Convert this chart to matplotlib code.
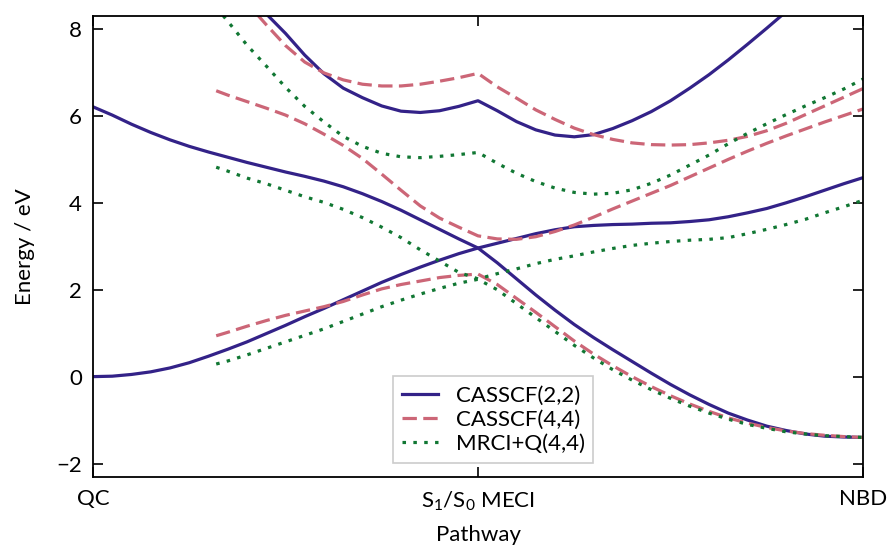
import matplotlib
matplotlib.use("Agg")
import matplotlib.pyplot as plt
from matplotlib.lines import Line2D

plt.rcParams['font.family'] = ['Lato', 'DejaVu Sans']
plt.rcParams['mathtext.default'] = 'regular'
plt.rcParams['font.size'] = 16

# Reaction coordinate: 0 = QC, 1 = S1/S0 MECI, 2 = NBD
x_full = [0.00, 0.05, 0.10, 0.15, 0.20, 0.25, 0.30, 0.35, 0.40, 0.45, 0.50,
          0.55, 0.60, 0.65, 0.70, 0.75, 0.80, 0.85, 0.90, 0.95, 1.00,
          1.05, 1.10, 1.15, 1.20, 1.25, 1.30, 1.35, 1.40, 1.45, 1.50,
          1.55, 1.60, 1.65, 1.70, 1.75, 1.80, 1.85, 1.90, 1.95, 2.00]

# CASSCF(2,2)
cas22_s0 = [0.00, 0.01, 0.05, 0.11, 0.20, 0.32, 0.47, 0.63, 0.80, 0.99, 1.18,
            1.38, 1.57, 1.77, 1.97, 2.17, 2.35, 2.52, 2.68, 2.83, 2.96,
            3.07, 3.18, 3.29, 3.38, 3.45, 3.48, 3.50, 3.51, 3.53, 3.54,
            3.57, 3.61, 3.68, 3.77, 3.87, 4.00, 4.14, 4.29, 4.44, 4.58]
cas22_s1 = [6.21, 6.02, 5.81, 5.62, 5.45, 5.30, 5.17, 5.05, 4.93, 4.82, 4.71,
            4.61, 4.50, 4.37, 4.21, 4.03, 3.83, 3.61, 3.39, 3.17, 2.96,
            2.62, 2.25, 1.88, 1.53, 1.20, 0.90, 0.62, 0.35, 0.08, -0.18,
            -0.42, -0.64, -0.84, -1.00, -1.14, -1.24, -1.32, -1.37, -1.39, -1.40]

x_cas22_s2 = [0.40, 0.45, 0.50, 0.55, 0.60, 0.65, 0.70, 0.75, 0.80, 0.85,
              0.90, 0.95, 1.00, 1.05, 1.10, 1.15, 1.20, 1.25, 1.30, 1.35,
              1.40, 1.45, 1.50, 1.55, 1.60, 1.65, 1.70, 1.75, 1.80, 1.85]
cas22_s2 = [8.90, 8.35, 7.90, 7.40, 6.97, 6.64, 6.42, 6.23, 6.11, 6.08,
            6.12, 6.22, 6.35, 6.12, 5.87, 5.68, 5.56, 5.52, 5.57, 5.71,
            5.89, 6.10, 6.35, 6.64, 6.95, 7.29, 7.65, 8.02, 8.40, 8.80]

# CASSCF(4,4) and MRCI+Q(4,4) share one grid
x_44 = [0.32, 0.35, 0.40, 0.45, 0.50, 0.55, 0.60, 0.65, 0.70, 0.75, 0.80,
        0.85, 0.90, 0.95, 1.00, 1.05, 1.10, 1.15, 1.20, 1.25, 1.30,
        1.35, 1.40, 1.45, 1.50, 1.55, 1.60, 1.65, 1.70, 1.75, 1.80,
        1.85, 1.90, 1.95, 2.00]
cas44_s0 = [0.94, 1.02, 1.16, 1.29, 1.41, 1.51, 1.61, 1.73, 1.88, 2.02, 2.12,
            2.20, 2.28, 2.33, 2.36, 2.12, 1.80, 1.48, 1.15, 0.82, 0.52,
            0.25, 0.00, -0.23, -0.44, -0.63, -0.80, -0.95, -1.07, -1.17, -1.25,
            -1.31, -1.35, -1.38, -1.40]
cas44_s1 = [6.58, 6.48, 6.33, 6.18, 6.02, 5.82, 5.58, 5.32, 5.02, 4.66, 4.29,
            3.93, 3.65, 3.44, 3.24, 3.17, 3.16, 3.22, 3.34, 3.49, 3.67,
            3.86, 4.04, 4.22, 4.40, 4.60, 4.80, 5.00, 5.19, 5.37, 5.54,
            5.70, 5.86, 6.01, 6.16]
cas44_s2 = [9.40, 9.10, 8.60, 8.10, 7.62, 7.24, 6.99, 6.83, 6.73, 6.69, 6.69,
            6.73, 6.80, 6.88, 6.98, 6.67, 6.41, 6.14, 5.92, 5.72, 5.57,
            5.46, 5.38, 5.34, 5.33, 5.34, 5.38, 5.44, 5.53, 5.66, 5.83,
            6.03, 6.23, 6.43, 6.63]

mrci_s0 = [0.29, 0.36, 0.50, 0.65, 0.80, 0.95, 1.10, 1.27, 1.44, 1.61, 1.76,
           1.90, 2.03, 2.15, 2.24, 2.00, 1.68, 1.36, 1.04, 0.72, 0.43,
           0.16, -0.08, -0.30, -0.50, -0.68, -0.84, -0.98, -1.10, -1.19, -1.27,
           -1.32, -1.36, -1.38, -1.40]
mrci_s1 = [4.82, 4.73, 4.57, 4.44, 4.29, 4.14, 4.01, 3.85, 3.66, 3.44, 3.20,
           2.92, 2.66, 2.40, 2.25, 2.37, 2.48, 2.60, 2.70, 2.78, 2.87,
           2.95, 3.02, 3.07, 3.11, 3.14, 3.16, 3.20, 3.29, 3.39, 3.50,
           3.62, 3.77, 3.91, 4.06]
mrci_s2 = [8.50, 8.18, 7.63, 7.15, 6.66, 6.22, 5.86, 5.53, 5.30, 5.14, 5.06,
           5.04, 5.07, 5.11, 5.16, 4.91, 4.68, 4.49, 4.34, 4.24, 4.20,
           4.22, 4.30, 4.45, 4.64, 4.87, 5.10, 5.36, 5.60, 5.82, 6.03,
           6.23, 6.42, 6.62, 6.85]

tick_pos = [0, 1, 2]
tick_labels = ['QC', 'S$_1$/S$_0$ MECI', 'NBD']
legend_labels = ['CASSCF(2,2)', 'CASSCF(4,4)', 'MRCI+Q(4,4)']

c_22 = '#332288'
c_44 = '#CC6677'
c_mr = '#117733'
lw = 2.3
dash_44 = (4.5, 2.0)
dash_mr = (1.1, 2.3)

fig = plt.figure(figsize=(8.89, 5.45), dpi=100)
ax = fig.add_axes([0.1046, 0.1248, 0.8662, 0.8458])

for y in (cas22_s0, cas22_s1):
    ax.plot(x_full, y, color=c_22, lw=lw)
ax.plot(x_cas22_s2, cas22_s2, color=c_22, lw=lw)

for y in (cas44_s0, cas44_s1, cas44_s2):
    ax.plot(x_44, y, color=c_44, lw=lw, dashes=dash_44)

for y in (mrci_s0, mrci_s1, mrci_s2):
    ax.plot(x_44, y, color=c_mr, lw=lw, dashes=dash_mr)

ax.set_xlim(0, 2)
ax.set_ylim(-2.31, 8.30)
ax.set_xticks(tick_pos)
ax.set_xticklabels(tick_labels)
ax.set_yticks([-2, 0, 2, 4, 6, 8])
ax.tick_params(direction='in', length=7, width=1.2, top=True, right=True,
               labelsize=16)
ax.tick_params(axis='x', pad=9)
ax.tick_params(axis='y', pad=8)
for s in ax.spines.values():
    s.set_linewidth(1.3)

ax.set_xlabel('Pathway', fontsize=16, labelpad=9)
ax.set_ylabel('Energy / eV', fontsize=16, labelpad=15)

handles = [
    Line2D([], [], color=c_22, lw=lw),
    Line2D([], [], color=c_44, lw=lw, dashes=dash_44),
    Line2D([], [], color=c_mr, lw=lw, dashes=dash_mr),
]
leg = ax.legend(handles, legend_labels,
                loc='lower left', bbox_to_anchor=(0.39, 0.03),
                fancybox=False, edgecolor='#cccccc', framealpha=1.0,
                fontsize=16, borderpad=0.4, labelspacing=0.2,
                handlelength=1.6, handletextpad=0.8, borderaxespad=0.0)
leg.get_frame().set_linewidth(1.2)

fig.savefig('out.png', dpi=100)
